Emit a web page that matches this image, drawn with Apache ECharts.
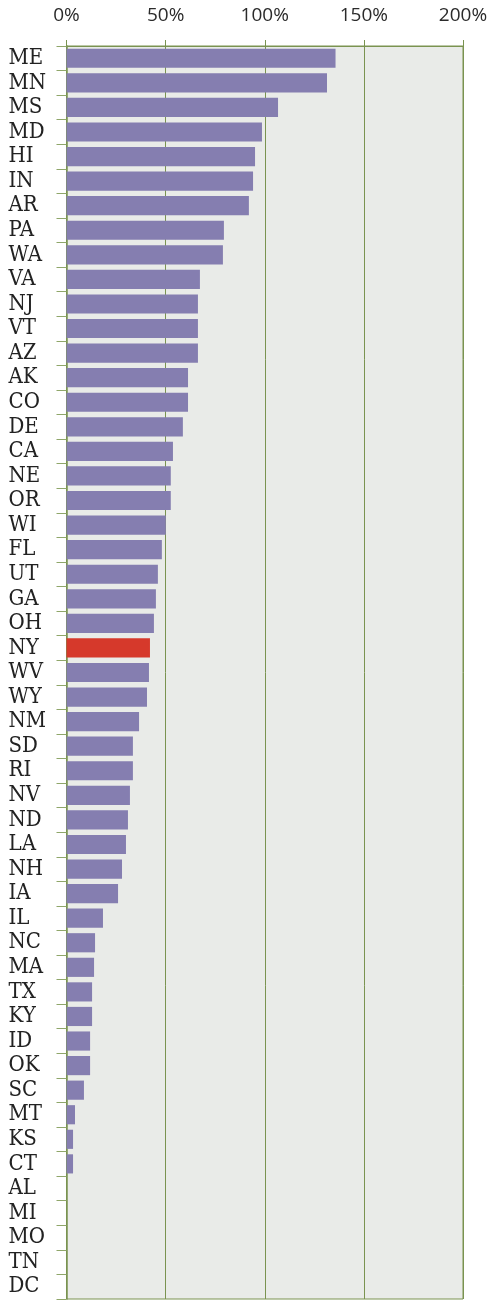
<!DOCTYPE html>
<html>
<head>
<meta charset="utf-8">
<script src="https://cdn.jsdelivr.net/npm/echarts@6/dist/echarts.min.js"></script>
<style>
  html, body { margin: 0; padding: 0; background: #fff; }
  #chart { width: 491px; height: 1301px; }
</style>
</head>
<body>
<div id="chart"></div>
<script>
// states, sorted as in the picture (top to bottom)
const states = ['ME', 'MN', 'MS', 'MD', 'HI', 'IN', 'AR', 'PA', 'WA', 'VA', 'NJ', 'VT', 'AZ',
  'AK', 'CO', 'DE', 'CA', 'NE', 'OR', 'WI', 'FL', 'UT', 'GA', 'OH', 'NY', 'WV', 'WY', 'NM',
  'SD', 'RI', 'NV', 'ND', 'LA', 'NH', 'IA', 'IL', 'NC', 'MA', 'TX', 'KY', 'ID', 'OK', 'SC',
  'MT', 'KS', 'CT', 'AL', 'MI', 'MO', 'TN', 'DC']

// percent values
const values = [135.7, 131.4, 106.7, 98.6, 95.1, 94.1, 92.0, 79.4, 78.9, 67.3, 66.3, 66.3, 66.3,
  61.3, 61.3, 58.7, 53.7, 52.6, 52.6, 50.1, 48.1, 46.1, 45.1, 44.1, 42.1, 41.6, 40.6, 36.6,
  33.5, 33.5, 32.0, 31.0, 30.0, 28.0, 26.0, 18.4, 14.4, 13.9, 12.9, 12.9, 11.9, 11.9, 8.8,
  4.3, 3.3, 3.3, 0, 0, 0, 0, 0]

const highlight = 'NY'

const green = '#7a9350'
const purple = '#857eb0'
const red = '#d6392b'

const chart = echarts.init(document.getElementById('chart'))

// 高亮纽约
const barData = values.map((v, i) => {
  if (states[i] === highlight) {
    return { value: v, itemStyle: { color: red } }
  }
  return v
})

chart.setOption({
  animation: false,
  grid: {
    left: 66.5,
    right: 28,
    top: 46,
    bottom: 2,
    outerBoundsMode: 'none',
    containLabel: false,
    show: true,
    backgroundColor: '#e9ebe8',
    borderColor: green,
    borderWidth: 1
  },
  xAxis: {
    type: 'value',
    position: 'top',
    min: 0,
    max: 200,
    interval: 50,
    axisLine: { show: true, lineStyle: { color: green } },
    axisTick: { show: true, length: 6, lineStyle: { color: green } },
    splitLine: { show: true, lineStyle: { color: green, width: 1 } },
    axisLabel: {
      formatter: '{value}%',
      color: '#2b2b2b',
      fontSize: 19,
      fontFamily: 'Open Sans',
      margin: 21
    }
  },
  yAxis: {
    type: 'category',
    inverse: true,
    data: states,
    axisLine: { show: true, lineStyle: { color: green, width: 1.5 } },
    axisTick: { show: true, length: 10, interval: 0, lineStyle: { color: '#8fa66a' } },
    axisLabel: {
      interval: 0,
      color: '#222',
      fontSize: 22,
      fontFamily: '"DejaVu Serif Condensed", "DejaVu Serif", serif',
      align: 'left',
      margin: 58
    }
  },
  series: [{
    type: 'bar',
    data: barData,
    barCategoryGap: '22%',
    itemStyle: { color: purple }
  }]
})
</script>
</body>
</html>
